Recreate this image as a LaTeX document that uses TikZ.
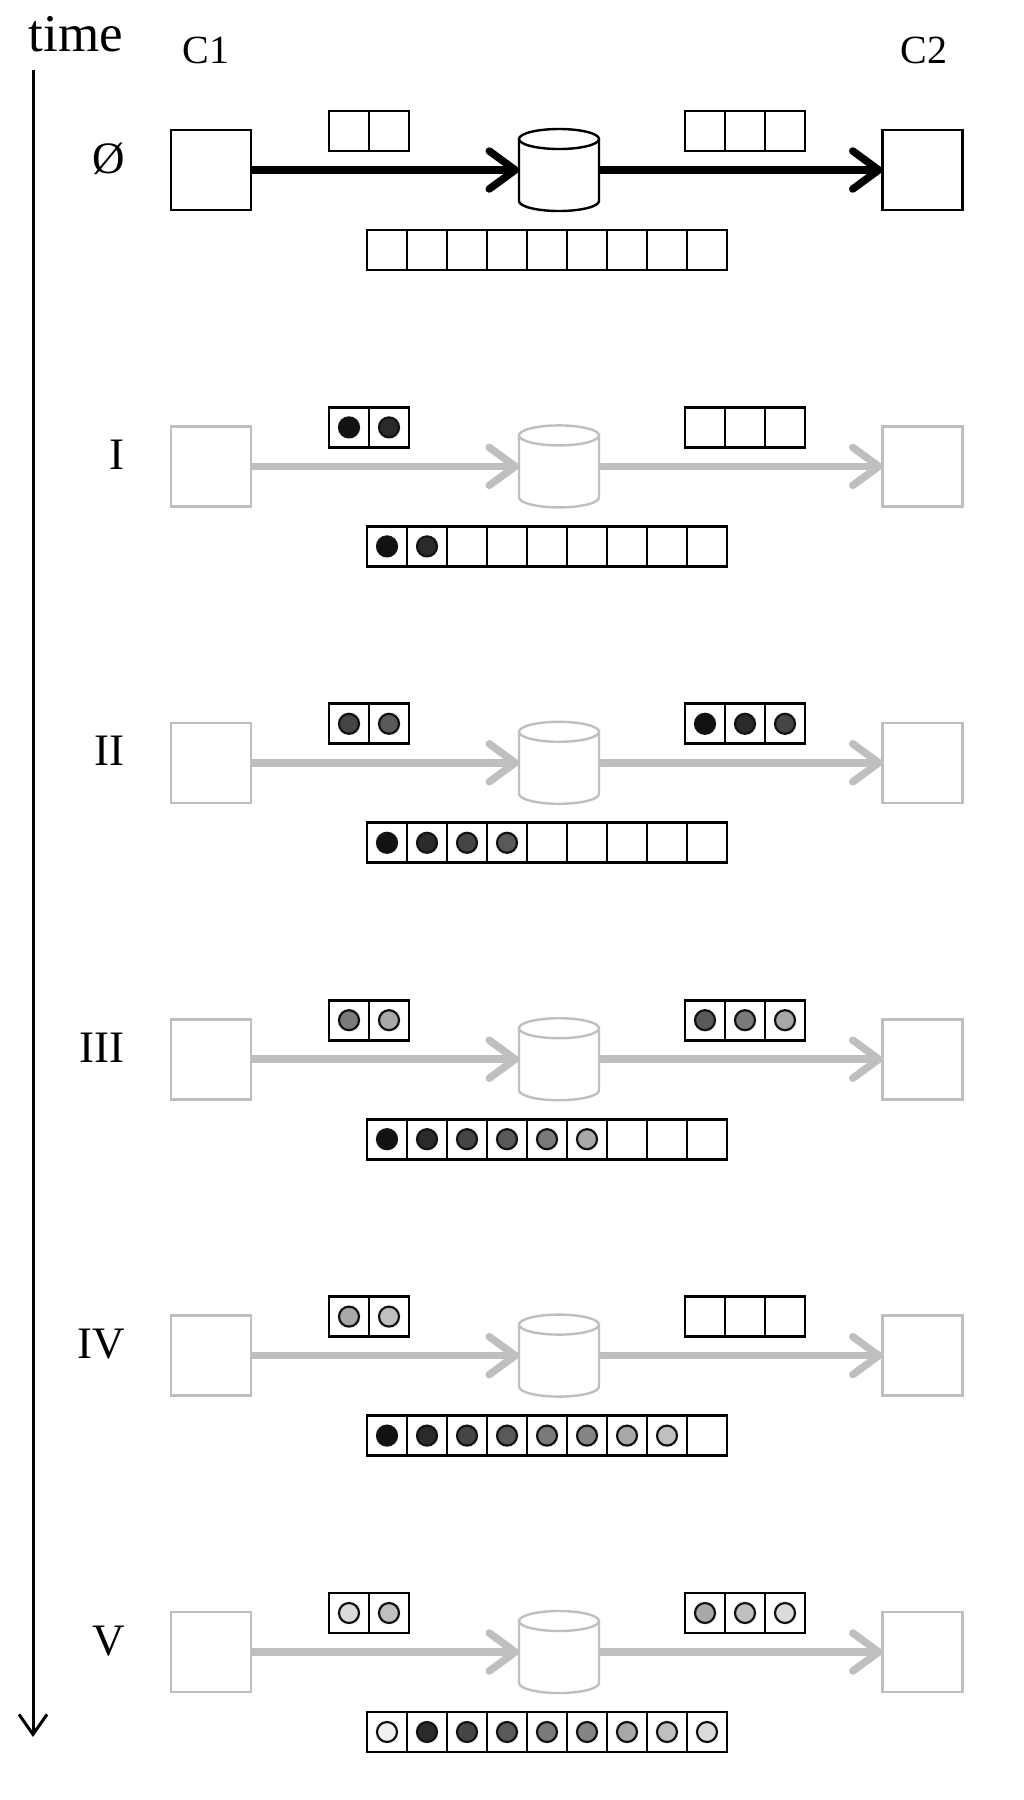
\documentclass[tikz,border=0pt]{standalone}
\usepackage{fontspec}
\setmainfont{Liberation Serif}
\usepackage{tikz}
\usetikzlibrary{arrows.meta,calc,positioning}

\definecolor{m1}{gray}{0.07}
\definecolor{m2}{gray}{0.165}
\definecolor{m3}{gray}{0.27}
\definecolor{m4}{gray}{0.35}
\definecolor{m5}{gray}{0.48}
\definecolor{m6}{gray}{0.52}
\definecolor{m7}{gray}{0.66}
\definecolor{m8}{gray}{0.75}
\definecolor{m9}{gray}{0.86}
\definecolor{m10}{gray}{0.94}

\tikzset{
  cell/.style={draw, line width=2.8pt, minimum size=40pt, inner sep=0pt, outer sep=0pt},
  dot/.style={circle, draw=m1, line width=2.2pt, fill=#1, minimum size=20pt, inner sep=0pt},
  client/.style={draw=#1, line width=2.6pt, minimum size=80pt, inner sep=0pt, outer sep=0pt},
  store/.style={minimum width=80pt, minimum height=82pt, inner sep=0pt, outer sep=0pt},
  flow/.style={draw=#1, line width=7.5pt, -{Straight Barb[length=26pt,width=38pt,round]}},
  numeral/.style={font=\fontsize{45}{50}\selectfont, anchor=base east, inner sep=0pt},
  clabel/.style={font=\fontsize{40}{44}\selectfont, anchor=base, inner sep=0pt},
}

% a queue of #2 cells named #1-1 ... #1-#2, first cell at #3, filled with the colours in #4
\newcommand{\queue}[4]{%
  \node[cell] (#1-1) at (#3) {};
  \foreach \j [remember=\j as \i (initially 1)] in {2,...,#2}
    \node[cell, right=0pt of #1-\i] (#1-\j) {};
  \ifx#4\empty\else
    \foreach \c [count=\j] in #4 \node[dot=\c] at (#1-\j) {};
  \fi
}

\begin{document}
\begin{tikzpicture}[x=1pt, y=-1pt]

\fill[white] (0,0) rectangle (1024,1800);
\useasboundingbox (0,0) rectangle (1024,1800);

% time axis
\node[font=\fontsize{53}{60}\selectfont, anchor=base, inner sep=0pt] (timelab) at (76,51) {time};
\coordinate (tstart) at (33,70);
\coordinate (tend) at (33,1737);
\draw[line width=3pt, -{Straight Barb[length=20pt,width=28pt]}] (tstart) -- (tend);

\node[clabel] (c1lab) at (206,63) {C1};
\node[clabel] (c2lab) at (924,63) {C2};

\foreach \lab/\lcol/\rcol/\bcol [count=\k from 0] in {
  Ø/{}/{}/{},
  I/{m1,m2}/{}/{m1,m2},
  II/{m3,m4}/{m1,m2,m3}/{m1,m2,m3,m4},
  III/{m5,m7}/{m4,m5,m7}/{m1,m2,m3,m4,m5,m7},
  IV/{m7,m8}/{}/{m1,m2,m3,m4,m5,m6,m7,m8},
  V/{m9,m8}/{m7,m8,m9}/{m10,m2,m3,m4,m5,m6,m7,m8,m9}}{
  \pgfmathsetmacro\y{170+296.4*\k}
  \ifnum\k=0 \def\tone{black}\else\def\tone{black!25}\fi

  \node[numeral] (lab-\k) at (125,\y+3) {\lab};
  \node[client=\tone] (c1-\k) at (211,\y) {};
  \node[store] (db-\k) at (559,\y) {};
  \node[client=\tone] (c2-\k) at (922.5,\y) {};

  % the store
  \draw[line width=2.4pt, draw=\tone, fill=white]
    ($(db-\k.north west)+(0,10)$) -- ($(db-\k.south west)+(0,-10)$)
    arc[start angle=180, end angle=0, x radius=40, y radius=10]
    -- ($(db-\k.north east)+(0,10)$);
  \draw[line width=2.4pt, draw=\tone, fill=white]
    ($(db-\k.north)+(0,10)$) ellipse [x radius=40, y radius=10];

  \draw[flow=\tone] (c1-\k) -- (db-\k);
  \draw[flow=\tone] (db-\k) -- (c2-\k);

  \queue{lq\k}{2}{349,\y-39}{\lcol}
  \queue{rq\k}{3}{705,\y-39}{\rcol}
  \queue{bq\k}{9}{387,\y+80}{\bcol}
}

\end{tikzpicture}
\end{document}
